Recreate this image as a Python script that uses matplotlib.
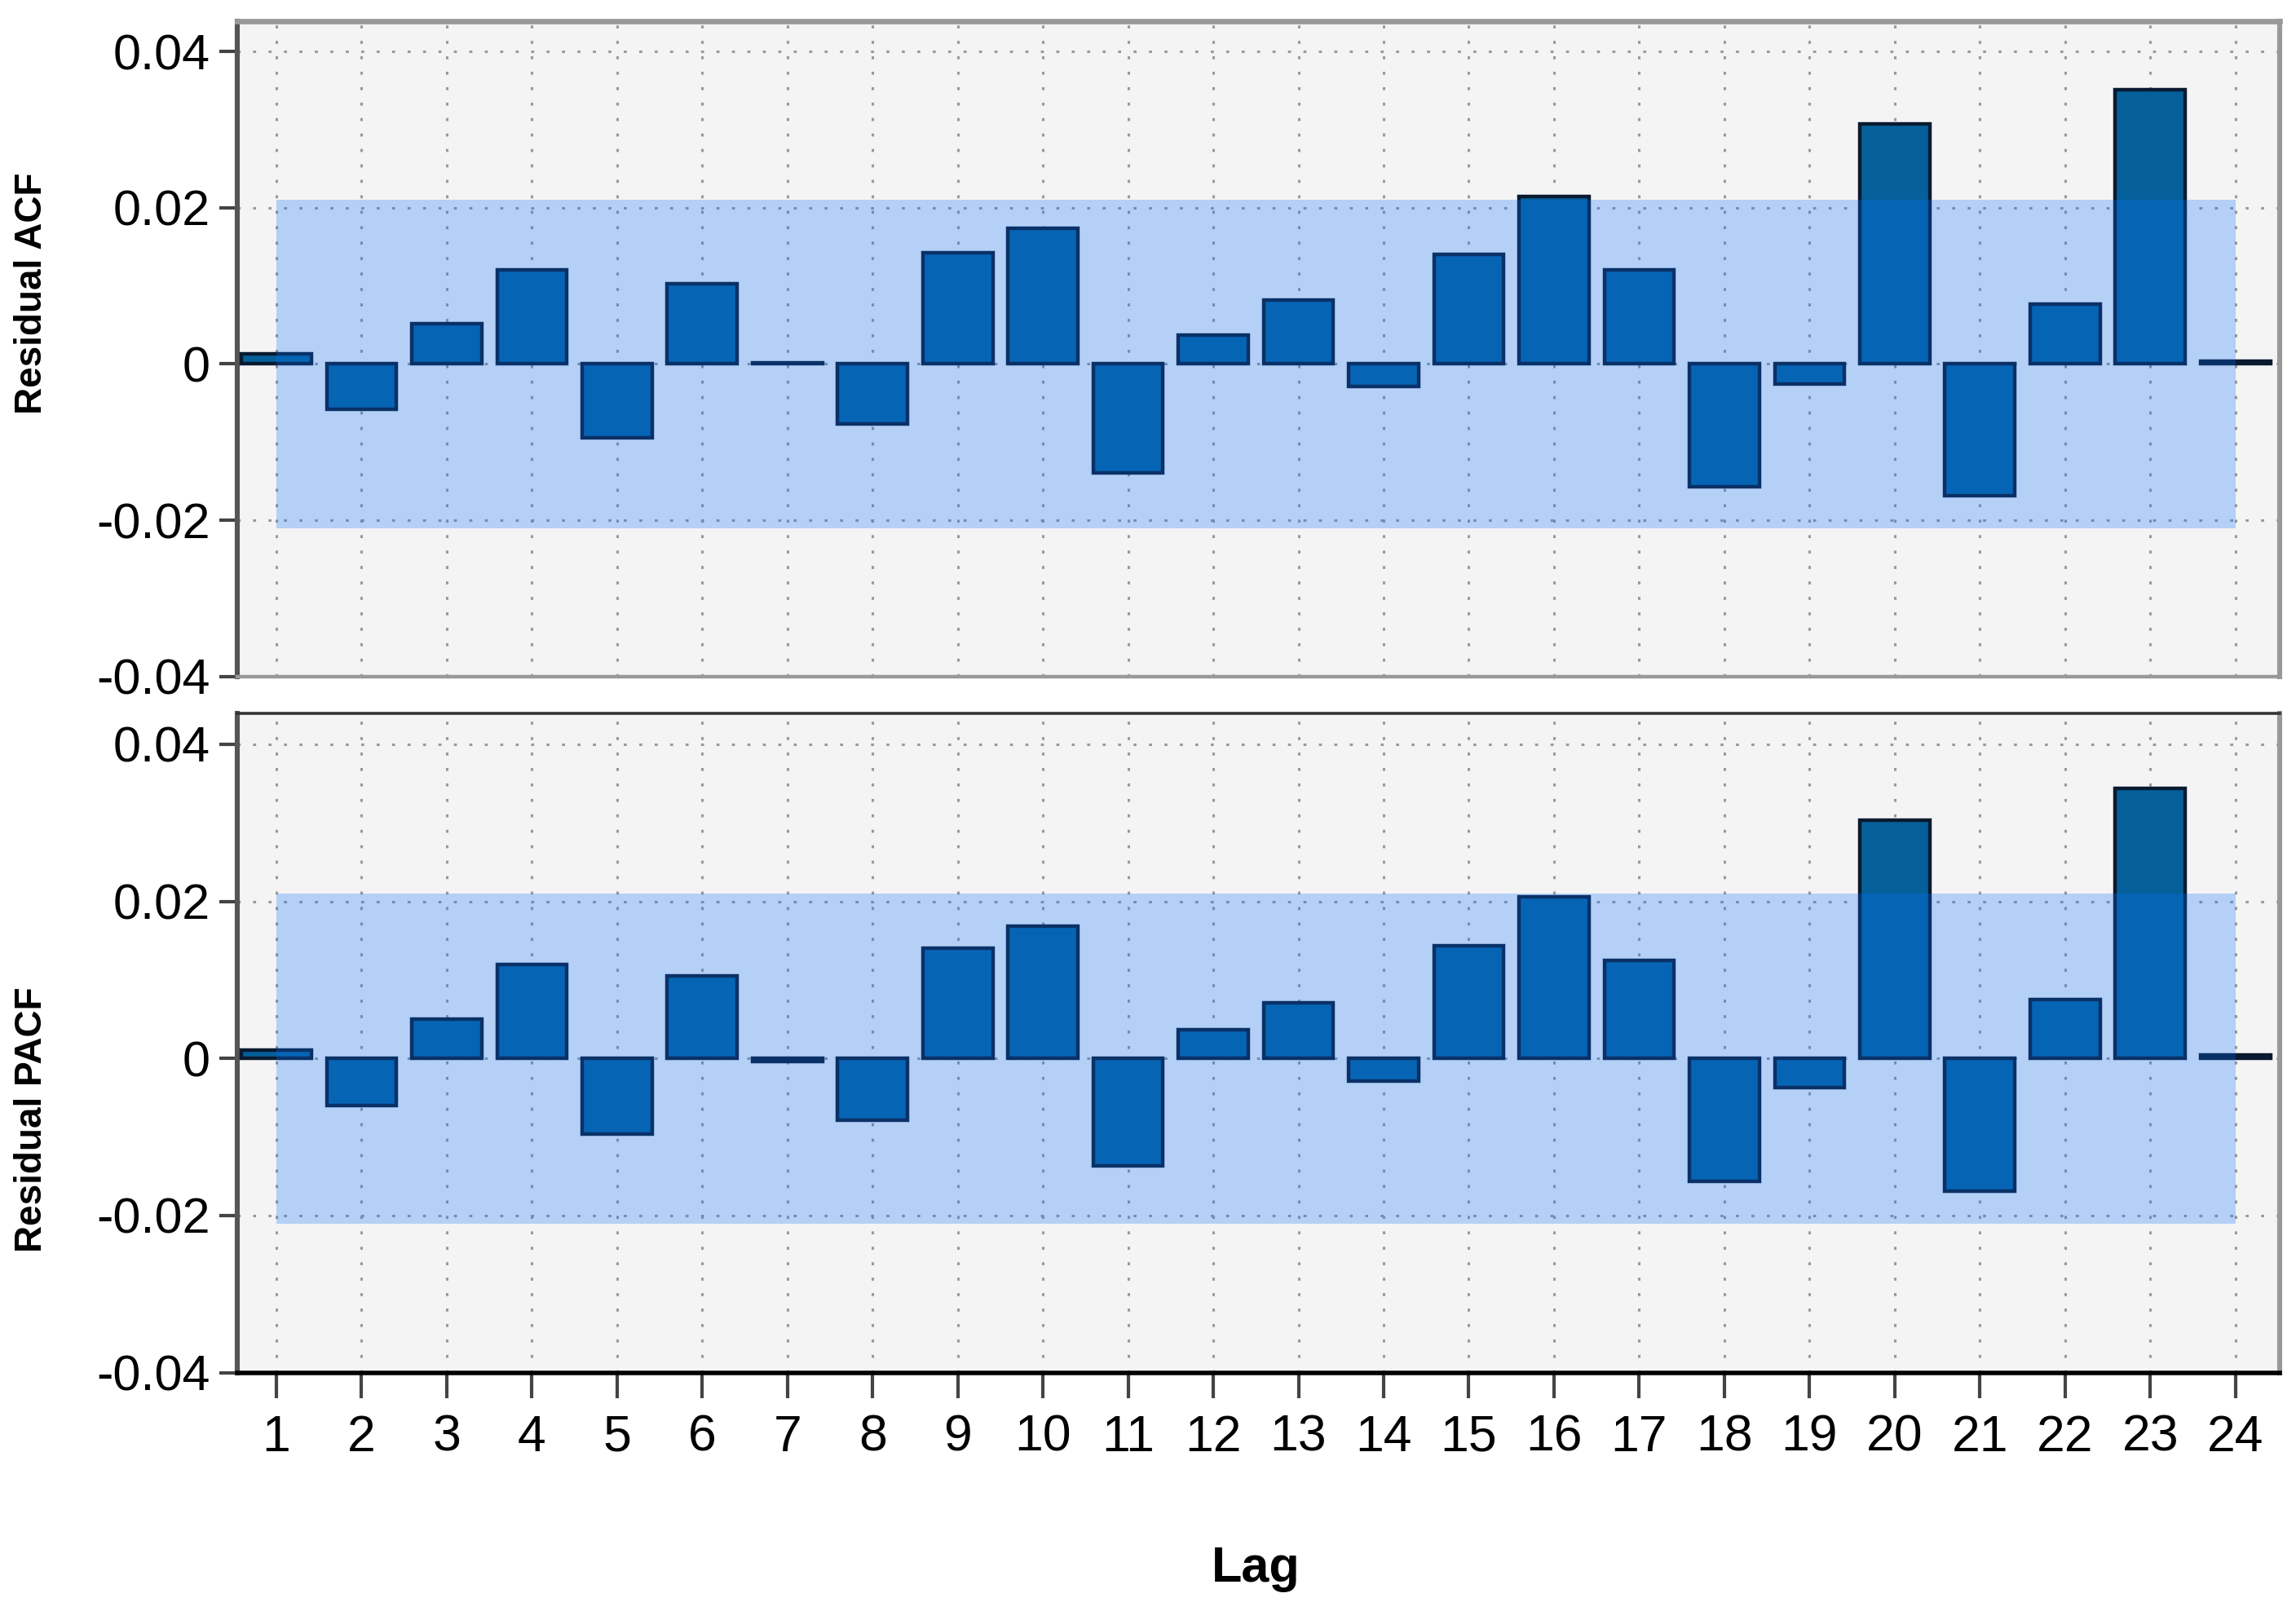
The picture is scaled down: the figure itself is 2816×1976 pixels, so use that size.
import matplotlib
matplotlib.use("Agg")
import matplotlib.pyplot as plt
import numpy as np

plt.rcParams['font.family'] = ['Liberation Sans', 'DejaVu Sans']

# data
lags = np.arange(1, 25)
acf = [0.0013, -0.0058, 0.0052, 0.0121, -0.0094, 0.0103, 0.0002, -0.0077,
       0.0142, 0.0174, -0.0139, 0.0037, 0.0082, -0.0029, 0.0140, 0.0214,
       0.0121, -0.0157, -0.0026, 0.0307, -0.0168, 0.0077, 0.0351, 0.0004]
pacf = [0.0011, -0.0060, 0.0050, 0.0120, -0.0096, 0.0105, -0.0004, -0.0079,
        0.0140, 0.0168, -0.0137, 0.0037, 0.0071, -0.0029, 0.0144, 0.0206,
        0.0125, -0.0156, -0.0037, 0.0303, -0.0169, 0.0075, 0.0344, 0.0004]
conf = 0.021
yticks = [-0.04, -0.02, 0, 0.02, 0.04]
ytick_labels = ["-0.04", "-0.02", "0", "0.02", "0.04"]

fig = plt.figure(figsize=(14.08, 9.88), dpi=200)
ax1 = fig.add_axes([0.1033, 0.580, 0.8896, 0.407])
ax2 = fig.add_axes([0.1033, 0.148, 0.8896, 0.409])

for ax, vals in [(ax1, acf), (ax2, pacf)]:
    ax.set_facecolor('#f4f4f4')
    ax.bar(lags, vals, width=0.82, color='#05609a', edgecolor='#0a1a30',
           linewidth=1.6, zorder=3)
    ax.fill_between([1, 24], -conf, conf, color='#0a70ff', alpha=0.27,
                    linewidth=0, zorder=4)
    ax.set_xlim(0.54, 24.52)
    ax.set_ylim(-0.04, 0.0439)
    ax.set_yticks(yticks)
    ax.set_yticklabels(ytick_labels)
    ax.set_xticks(lags)
    ax.grid(True, color='#999999', linewidth=1.1, linestyle=(0, (1.2, 5)), zorder=1)
    ax.tick_params(axis='y', labelsize=22, length=8, width=1.5, color='#444444', pad=4)
    ax.tick_params(axis='x', labelsize=22.5, length=11, width=1.5, color='#444444', pad=7)
    ax.spines['left'].set_color('#555555')
    ax.spines['left'].set_linewidth(2.2)
    ax.spines['right'].set_color('#999999')
    ax.spines['right'].set_linewidth(2.2)

ax1.spines['top'].set_color('#999999')
ax1.spines['top'].set_linewidth(2.4)
ax1.spines['bottom'].set_color('#999999')
ax1.spines['bottom'].set_linewidth(1.6)
ax1.tick_params(axis='x', length=0, labelbottom=False)

ax2.spines['top'].set_color('#333333')
ax2.spines['top'].set_linewidth(1.3)
ax2.spines['bottom'].set_color('#000000')
ax2.spines['bottom'].set_linewidth(2.0)

fig.text(0.014, 0.818, "Residual ACF", rotation=90, ha='center', va='center',
         fontsize=16.5, fontweight='bold')
fig.text(0.014, 0.305, "Residual PACF", rotation=90, ha='center', va='center',
         fontsize=16.5, fontweight='bold')
fig.text(0.547, 0.026, "Lag", ha='center', va='center', fontsize=22, fontweight='bold')

fig.savefig("out.png", dpi=200)
